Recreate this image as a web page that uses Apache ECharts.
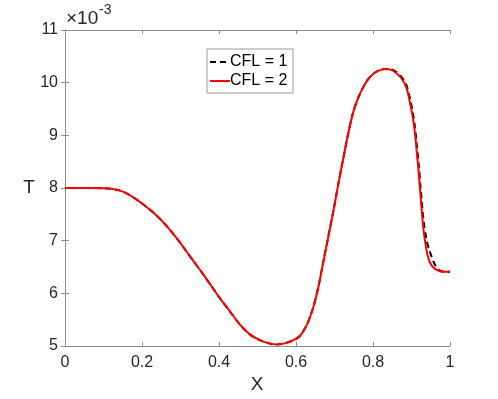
<!DOCTYPE html>
<html><head><meta charset="utf-8">
<script src="https://cdn.jsdelivr.net/npm/echarts@6/dist/echarts.min.js"></script>
<style>html,body{margin:0;padding:0;background:#fff}#c{width:498px;height:399px}</style>
</head><body><div id="c"></div>
<script>
// X positions
const xs = [0,0.05,0.1,0.12,0.143,0.165,0.186,0.21,0.23,0.25,0.273,0.295,0.316,0.34,0.359,0.38,0.403,0.43,0.455,0.48,0.506,0.53,0.55,0.57,0.593,0.61,0.628,0.645,0.658,0.671,0.684,0.697,0.71,0.723,0.736,0.749,0.762,0.775,0.788,0.801,0.815,0.831,0.845,0.861,0.875,0.887,0.896,0.903,0.909,0.914,0.918,0.924,0.931,0.939,0.945,0.952,0.962,0.974,0.986,1.0];
// T values in units of 1e-3
const tCFL2 = [8.00,8.00,7.995,7.985,7.95,7.88,7.78,7.65,7.53,7.39,7.20,7.00,6.79,6.55,6.36,6.14,5.90,5.64,5.40,5.22,5.11,5.05,5.03,5.05,5.11,5.19,5.40,5.74,6.12,6.60,7.08,7.56,8.08,8.57,9.05,9.45,9.72,9.92,10.07,10.17,10.23,10.26,10.25,10.18,10.07,9.90,9.62,9.35,9.04,8.65,8.35,7.80,7.22,6.82,6.64,6.53,6.46,6.42,6.41,6.41];
const tCFL1 = [8.00,8.00,7.995,7.985,7.95,7.88,7.78,7.65,7.53,7.39,7.20,7.00,6.79,6.55,6.36,6.14,5.90,5.64,5.40,5.22,5.11,5.05,5.03,5.05,5.11,5.19,5.40,5.74,6.12,6.60,7.08,7.56,8.08,8.57,9.05,9.45,9.72,9.92,10.07,10.17,10.23,10.26,10.26,10.20,10.10,9.95,9.70,9.45,9.15,8.80,8.50,7.98,7.40,7.02,6.85,6.70,6.53,6.43,6.41,6.41];
const seriesNames = ['CFL = 1','CFL = 2'];

const FONT = 'Liberation Sans';
const axisCol = '#8c8c8c';
const txtCol = '#262626';
const zip = (a,b)=>a.map((v,i)=>[v,b[i]]);

const chart = echarts.init(document.getElementById('c'));
const baseX = {type:'value',min:0,max:1,interval:0.2,gridIndex:0,
  axisLine:{show:true,lineStyle:{color:axisCol,width:1}},
  axisTick:{show:true,inside:true,length:4,lineStyle:{color:axisCol}},
  splitLine:{show:false}};
const baseY = {type:'value',min:5,max:11,interval:1,gridIndex:0,
  axisLine:{show:true,lineStyle:{color:axisCol,width:1}},
  axisTick:{show:true,inside:true,length:4,lineStyle:{color:axisCol}},
  splitLine:{show:false}};
chart.setOption({
  animation:false,
  grid:{left:65,right:48,top:30,bottom:53},
  xAxis:[
    Object.assign({},baseX,{position:'bottom',
      axisLabel:{show:true,fontFamily:FONT,fontSize:16,color:txtCol,margin:9,
        formatter:v=>String(Math.round(v*10)/10)}}),
    Object.assign({},baseX,{position:'top',axisLabel:{show:false}})
  ],
  yAxis:[
    Object.assign({},baseY,{position:'left',
      axisLabel:{show:true,fontFamily:FONT,fontSize:16,color:txtCol,margin:7}}),
    Object.assign({},baseY,{position:'right',axisLabel:{show:false}})
  ],
  series:[
    {name:seriesNames[0],type:'line',data:zip(xs,tCFL1),symbol:'none',smooth:0.3,
      lineStyle:{color:'#000',width:2,type:[6,4]},itemStyle:{color:'#000'},z:2},
    {name:seriesNames[1],type:'line',data:zip(xs,tCFL2),symbol:'none',smooth:0.3,
      lineStyle:{color:'#ff0000',width:2},itemStyle:{color:'#ff0000'},z:3}
  ],
  graphic:[
    {type:'rect',shape:{x:207,y:49,width:86,height:44},style:{fill:'#fff',stroke:'#9a9a9a',lineWidth:1},z:10},
    {type:'line',shape:{x1:210,y1:62,x2:229,y2:62},style:{stroke:'#000',lineWidth:2,lineDash:[6,4]},z:11},
    {type:'line',shape:{x1:210,y1:81,x2:230,y2:81},style:{stroke:'#ff0000',lineWidth:2},z:11},
    {type:'text',x:230,y:62,style:{text:seriesNames[0],font:'16px "Liberation Sans"',fill:'#000',verticalAlign:'middle'},z:11},
    {type:'text',x:230,y:81,style:{text:seriesNames[1],font:'16px "Liberation Sans"',fill:'#000',verticalAlign:'middle'},z:11},
    {type:'text',x:257,y:385,style:{text:'X',font:'19px "Liberation Sans"',fill:txtCol,align:'center',verticalAlign:'middle'}},
    {type:'text',x:29,y:188,style:{text:'T',font:'19px "Liberation Sans"',fill:txtCol,align:'center',verticalAlign:'middle'}},
    {type:'text',x:66,y:28,style:{text:'×10',font:'19px "Liberation Sans"',fill:txtCol,verticalAlign:'bottom'}},
    {type:'text',x:99,y:17,style:{text:'-3',font:'14px "Liberation Sans"',fill:txtCol,verticalAlign:'bottom'}}
  ]
});
</script></body></html>
